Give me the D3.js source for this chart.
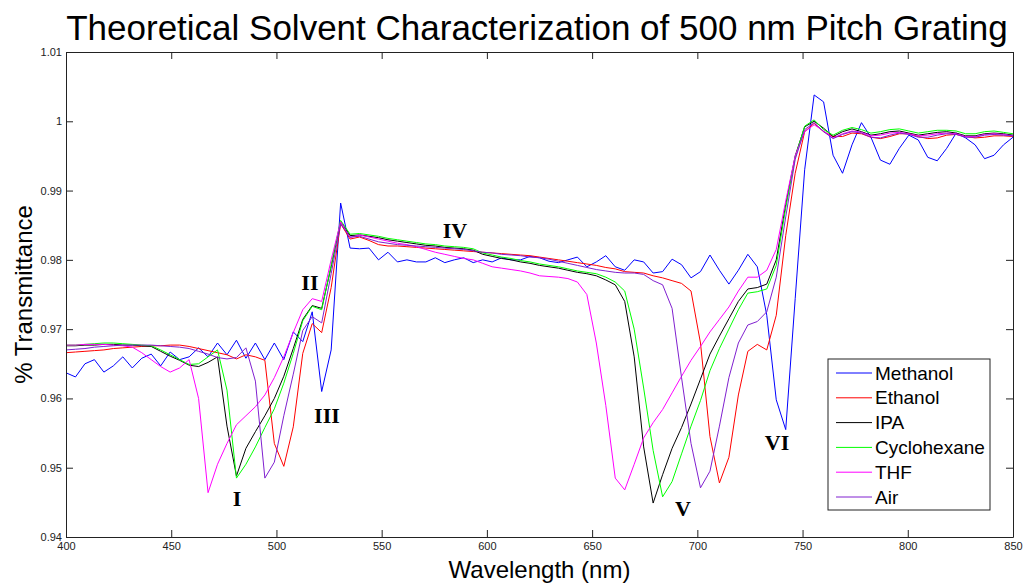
<!DOCTYPE html>
<html>
<head>
<meta charset="utf-8">
<script src="https://cdn.jsdelivr.net/npm/d3@7"></script>
<style>
  body { margin: 0; background: #fff; }
</style>
</head>
<body>
<div id="chart-area"></div>
<script>
// wavelength grid (nm)
var wavelength = [400, 404.5, 409, 413.5, 418, 422.5, 427, 431.5, 436, 440.5,
  445, 449.5, 454, 458.5, 463, 467.5, 472, 476.5, 481, 485.5,
  490, 494.5, 499, 503.5, 508, 512.5, 517, 521.5, 526, 530.5,
  535, 539.5, 544, 548.5, 553, 557.5, 562, 566.5, 571, 575.5,
  580, 584.5, 589, 593.5, 598, 602.5, 607, 611.5, 616, 620.5,
  625, 629.5, 634, 638.5, 643, 647.5, 652, 656.5, 661, 665.5,
  670, 674.5, 679, 683.5, 688, 692.5, 697, 701.5, 706, 710.5,
  715, 719.5, 724, 728.5, 733, 737.5, 742, 746.5, 751, 755.5,
  760, 764.5, 769, 773.5, 778, 782.5, 787, 791.5, 796, 800.5,
  805, 809.5, 814, 818.5, 823, 827.5, 832, 836.5, 841, 845.5, 850];

var methanol = [0.9637, 0.9631, 0.9650, 0.9656, 0.9638, 0.9647, 0.9660, 0.9644, 0.9658, 0.9664,
  0.9647, 0.9667, 0.9656, 0.9660, 0.9673, 0.9660, 0.9680, 0.9663, 0.9684, 0.9658,
  0.9680, 0.9656, 0.9680, 0.9656, 0.9696, 0.9682, 0.9725, 0.9610, 0.9670, 0.9882,
  0.9817, 0.9816, 0.9817, 0.9800, 0.9811, 0.9797, 0.9800, 0.9797, 0.9797, 0.9803,
  0.9796, 0.9800, 0.9803, 0.9796, 0.9800, 0.9797, 0.9803, 0.9800, 0.9800, 0.9805,
  0.9803, 0.9798, 0.9796, 0.9800, 0.9804, 0.9790, 0.9797, 0.9806, 0.9790, 0.9785,
  0.9800, 0.9797, 0.9781, 0.9783, 0.9801, 0.9793, 0.9774, 0.9783, 0.9807, 0.9785,
  0.9765, 0.9785, 0.9808, 0.9790, 0.9720, 0.9598, 0.9555, 0.9744, 0.9930, 1.0038,
  1.0028, 0.9951, 0.9925, 0.9966, 0.9998, 0.9977, 0.9944, 0.9938, 0.9961, 0.9980,
  0.9973, 0.9948, 0.9943, 0.9961, 0.9983, 0.9976, 0.9966, 0.9946, 0.9951, 0.9966, 0.9977];

var ethanol = [0.9666, 0.9667, 0.9668, 0.9669, 0.9670, 0.9672, 0.9673, 0.9674, 0.9675, 0.9676,
  0.9676, 0.9677, 0.9677, 0.9675, 0.9672, 0.9669, 0.9666, 0.9663, 0.9657, 0.9663,
  0.9660, 0.9655, 0.9535, 0.9502, 0.9559, 0.9665, 0.9708, 0.9695, 0.9760, 0.9852,
  0.9830, 0.9833, 0.9828, 0.9822, 0.9820, 0.9820, 0.9819, 0.9818, 0.9817, 0.9816,
  0.9815, 0.9814, 0.9813, 0.9812, 0.9811, 0.9810, 0.9809, 0.9808, 0.9807, 0.9806,
  0.9804, 0.9802, 0.9800, 0.9798, 0.9796, 0.9794, 0.9792, 0.9789, 0.9787, 0.9783,
  0.9782, 0.9781, 0.9777, 0.9774, 0.9770, 0.9766, 0.9755, 0.9680, 0.9545, 0.9478,
  0.9515, 0.9605, 0.9668, 0.9678, 0.9670, 0.9720, 0.9835, 0.9925, 0.9985, 0.9997,
  0.9985, 0.9978, 0.9978, 0.9983, 0.9982, 0.9977, 0.9975, 0.9978, 0.9982, 0.9982,
  0.9978, 0.9975, 0.9976, 0.9980, 0.9981, 0.9978, 0.9976, 0.9977, 0.9979, 0.9979, 0.9978];

var ipa = [0.9676, 0.9676, 0.9677, 0.9677, 0.9678, 0.9678, 0.9677, 0.9677, 0.9676, 0.9675,
  0.9668, 0.9661, 0.9655, 0.9648, 0.9646, 0.9652, 0.9660, 0.9560, 0.9488, 0.9528,
  0.9552, 0.9575, 0.9600, 0.9632, 0.9672, 0.9714, 0.9734, 0.9730, 0.9790, 0.9855,
  0.9835, 0.9836, 0.9834, 0.9832, 0.9829, 0.9827, 0.9825, 0.9823, 0.9821, 0.9820,
  0.9818, 0.9817, 0.9816, 0.9814, 0.9808, 0.9805, 0.9802, 0.9800, 0.9797, 0.9795,
  0.9792, 0.9790, 0.9788, 0.9785, 0.9782, 0.9780, 0.9777, 0.9771, 0.9764, 0.9740,
  0.9660, 0.9530, 0.9449, 0.9490, 0.9528, 0.9558, 0.9592, 0.9628, 0.9664, 0.9690,
  0.9715, 0.9740, 0.9758, 0.9760, 0.9765, 0.9800, 0.9880, 0.9950, 0.9992, 1.0000,
  0.9990, 0.9978, 0.9985, 0.9989, 0.9985, 0.9980, 0.9982, 0.9985, 0.9986, 0.9983,
  0.9980, 0.9982, 0.9984, 0.9985, 0.9983, 0.9979, 0.9979, 0.9982, 0.9983, 0.9982, 0.9980];

var cyclohexane = [0.9677, 0.9677, 0.9678, 0.9679, 0.9680, 0.9680, 0.9679, 0.9678, 0.9677, 0.9676,
  0.9670, 0.9663, 0.9656, 0.9649, 0.9650, 0.9660, 0.9670, 0.9612, 0.9485, 0.9505,
  0.9530, 0.9558, 0.9585, 0.9622, 0.9665, 0.9712, 0.9733, 0.9728, 0.9792, 0.9857,
  0.9837, 0.9838, 0.9836, 0.9834, 0.9831, 0.9829, 0.9827, 0.9825, 0.9823, 0.9822,
  0.9820, 0.9819, 0.9818, 0.9816, 0.9810, 0.9807, 0.9804, 0.9802, 0.9799, 0.9797,
  0.9794, 0.9792, 0.9790, 0.9787, 0.9784, 0.9782, 0.9780, 0.9775, 0.9768, 0.9755,
  0.9700, 0.9615, 0.9525, 0.9458, 0.9480, 0.9520, 0.9560, 0.9597, 0.9640, 0.9672,
  0.9700, 0.9728, 0.9752, 0.9754, 0.9758, 0.9792, 0.9875, 0.9948, 0.9993, 1.0002,
  0.9988, 0.9980, 0.9987, 0.9991, 0.9988, 0.9983, 0.9985, 0.9988, 0.9989, 0.9986,
  0.9983, 0.9985, 0.9987, 0.9987, 0.9986, 0.9982, 0.9982, 0.9985, 0.9986, 0.9984, 0.9982];

var thf = [0.9677, 0.9677, 0.9678, 0.9678, 0.9678, 0.9677, 0.9676, 0.9674, 0.9666, 0.9656,
  0.9646, 0.9638, 0.9644, 0.9656, 0.9600, 0.9464, 0.9505, 0.9535, 0.9562, 0.9575,
  0.9588, 0.9605, 0.9630, 0.9660, 0.9695, 0.9728, 0.9744, 0.9740, 0.9800, 0.9855,
  0.9832, 0.9836, 0.9833, 0.9830, 0.9827, 0.9824, 0.9822, 0.9819, 0.9815, 0.9811,
  0.9808, 0.9805, 0.9802, 0.9800, 0.9795, 0.9790, 0.9788, 0.9786, 0.9784, 0.9781,
  0.9777, 0.9776, 0.9775, 0.9773, 0.9768, 0.9750, 0.9680, 0.9590, 0.9485, 0.9468,
  0.9505, 0.9543, 0.9565, 0.9584, 0.9608, 0.9632, 0.9655, 0.9675, 0.9696, 0.9714,
  0.9732, 0.9755, 0.9775, 0.9775, 0.9785, 0.9815, 0.9885, 0.9950, 0.9985, 0.9995,
  0.9986, 0.9976, 0.9982, 0.9986, 0.9984, 0.9979, 0.9980, 0.9983, 0.9984, 0.9982,
  0.9979, 0.9980, 0.9982, 0.9983, 0.9982, 0.9978, 0.9978, 0.9981, 0.9982, 0.9981, 0.9979];

var air = [0.9670, 0.9671, 0.9672, 0.9674, 0.9675, 0.9676, 0.9677, 0.9677, 0.9677, 0.9677,
  0.9676, 0.9675, 0.9674, 0.9672, 0.9668, 0.9664, 0.9659, 0.9657, 0.9659, 0.9673,
  0.9625, 0.9485, 0.9508, 0.9575, 0.9635, 0.9698, 0.9718, 0.9709, 0.9780, 0.9852,
  0.9833, 0.9834, 0.9830, 0.9826, 0.9824, 0.9822, 0.9821, 0.9820, 0.9819, 0.9818,
  0.9817, 0.9816, 0.9815, 0.9813, 0.9811, 0.9810, 0.9808, 0.9807, 0.9806, 0.9804,
  0.9803, 0.9801, 0.9798, 0.9795, 0.9792, 0.9789, 0.9786, 0.9784, 0.9782, 0.9781,
  0.9781, 0.9779, 0.9770, 0.9764, 0.9730, 0.9630, 0.9535, 0.9471, 0.9495, 0.9560,
  0.9630, 0.9680, 0.9706, 0.9711, 0.9725, 0.9775, 0.9862, 0.9945, 0.9988, 0.9998,
  0.9985, 0.9975, 0.9981, 0.9985, 0.9983, 0.9977, 0.9976, 0.9980, 0.9983, 0.9981,
  0.9977, 0.9977, 0.9980, 0.9982, 0.9981, 0.9977, 0.9977, 0.9980, 0.9981, 0.9980, 0.9979];

var seriesNames = ["Methanol", "Ethanol", "IPA", "Cyclohexane", "THF", "Air"];
var seriesColors = ["#0000ff", "#ff0000", "#000000", "#00ff00", "#ff00ff", "#8020d0"];
var seriesValues = [methanol, ethanol, ipa, cyclohexane, thf, air];

var xTicks = [400, 450, 500, 550, 600, 650, 700, 750, 800, 850];
var yTicks = [0.94, 0.95, 0.96, 0.97, 0.98, 0.99, 1.0, 1.01];
var yTickLabels = ["0.94", "0.95", "0.96", "0.97", "0.98", "0.99", "1", "1.01"];

// feature labels (placed in data units)
var markText = ["I", "II", "III", "IV", "V", "VI"];
var markWave = [481.3, 515.9, 524.0, 584.8, 693.2, 737.9];
var markValue = [0.9456, 0.9768, 0.9576, 0.9843, 0.9442, 0.9536];

var svg = d3.select("#chart-area").append("svg")
  .attr("width", 1024)
  .attr("height", 584);

var plotLeft = 66, plotRight = 1013, plotTop = 52, plotBottom = 537;

var x = d3.scaleLinear().domain([400, 850]).range([plotLeft, plotRight]);
var y = d3.scaleLinear().domain([0.94, 1.01]).range([plotBottom, plotTop]);

// title
svg.append("text")
  .attr("x", 537)
  .attr("y", 40)
  .attr("text-anchor", "middle")
  .style("font-family", "Arial, 'Liberation Sans', sans-serif")
  .style("font-size", "35px")
  .text("Theoretical Solvent Characterization of 500 nm Pitch Grating");

// lines
var line = d3.line()
  .x(function(d, i) { return x(wavelength[i]); })
  .y(function(d) { return y(d); });

svg.selectAll("path.series").data(seriesValues)
  .enter()
  .append("path")
    .attr("class", "series")
    .attr("fill", "none")
    .attr("stroke", function(d, i) { return seriesColors[i]; })
    .attr("stroke-width", 1)
    .attr("d", line);

// axes (ticks point inward, box all round)
var tickFont = function(g) {
  g.selectAll("text")
    .style("font-family", "Arial, 'Liberation Sans', sans-serif")
    .style("font-size", "11px")
    .attr("fill", "#222");
  g.selectAll("line").attr("stroke", "#222");
  g.select(".domain").attr("stroke", "#222");
};

svg.append("g")
  .attr("transform", "translate(0," + plotBottom + ")")
  .call(d3.axisBottom(x).tickValues(xTicks).tickSize(-7).tickSizeOuter(0).tickPadding(5)
    .tickFormat(function(d) { return d; }))
  .call(tickFont);

svg.append("g")
  .attr("transform", "translate(" + plotLeft + ",0)")
  .call(d3.axisLeft(y).tickValues(yTicks).tickSize(-7).tickSizeOuter(0).tickPadding(4)
    .tickFormat(function(d, i) { return yTickLabels[i]; }))
  .call(tickFont);

svg.append("g")
  .attr("transform", "translate(0," + plotTop + ")")
  .call(d3.axisTop(x).tickValues(xTicks).tickSize(-7).tickSizeOuter(0).tickFormat(""))
  .call(tickFont);

svg.append("g")
  .attr("transform", "translate(" + plotRight + ",0)")
  .call(d3.axisRight(y).tickValues(yTicks).tickSize(-7).tickSizeOuter(0).tickFormat(""))
  .call(tickFont);

// axis titles
svg.append("text")
  .attr("x", (plotLeft + plotRight) / 2)
  .attr("y", 578)
  .attr("text-anchor", "middle")
  .style("font-family", "Arial, 'Liberation Sans', sans-serif")
  .style("font-size", "24px")
  .text("Wavelength (nm)");

svg.append("text")
  .attr("transform", "translate(32," + ((plotTop + plotBottom) / 2) + ") rotate(-90)")
  .attr("text-anchor", "middle")
  .style("font-family", "Arial, 'Liberation Sans', sans-serif")
  .style("font-size", "24px")
  .text("% Transmittance");

// roman numeral annotations
svg.selectAll("text.mark").data(markText)
  .enter()
  .append("text")
    .attr("class", "mark")
    .attr("x", function(d, i) { return x(markWave[i]); })
    .attr("y", function(d, i) { return y(markValue[i]); })
    .attr("text-anchor", "middle")
    .attr("dy", "0.35em")
    .style("font-family", "'Liberation Serif', 'Times New Roman', serif")
    .style("font-weight", "bold")
    .style("font-size", "22px")
    .text(function(d) { return d; });

// legend
var legend = svg.append("g").attr("transform", "translate(828,359)");
legend.append("rect")
  .attr("width", 162)
  .attr("height", 151)
  .attr("fill", "#fff")
  .attr("stroke", "#222")
  .attr("stroke-width", 1);

var rows = legend.selectAll("g.row").data(seriesNames)
  .enter()
  .append("g")
    .attr("class", "row")
    .attr("transform", function(d, i) { return "translate(0," + (14 + i * 24.8) + ")"; });

rows.append("line")
  .attr("x1", 8)
  .attr("x2", 44)
  .attr("stroke", function(d, i) { return seriesColors[i]; })
  .attr("stroke-width", 1);

rows.append("text")
  .attr("x", 47)
  .attr("dy", "0.35em")
  .style("font-family", "Arial, 'Liberation Sans', sans-serif")
  .style("font-size", "19px")
  .text(function(d) { return d; });
</script>
</body>
</html>
